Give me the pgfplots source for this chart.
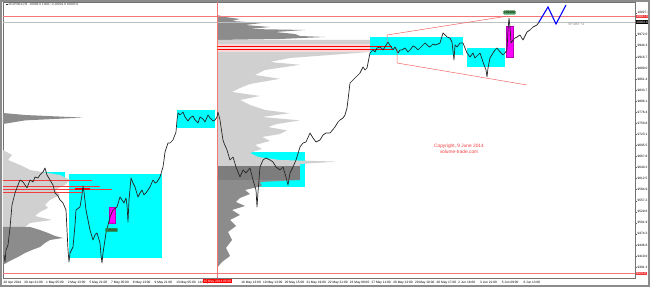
\documentclass[border=0pt]{standalone}
\usepackage{fontspec}
\setmainfont{Liberation Sans}
\usepackage{pgfplots}
\pgfplotsset{compat=1.18}
\definecolor{mtcyan}{RGB}{0,255,255}
\definecolor{mtmag}{RGB}{255,0,255}
\definecolor{proflight}{RGB}{208,208,208}
\definecolor{profdark}{RGB}{140,140,140}
\definecolor{profblock}{RGB}{125,125,125}
\definecolor{mtred}{RGB}{240,60,60}
\definecolor{vgreen}{RGB}{80,160,100}
\newcommand{\tinyf}{\fontsize{3.2}{3.6}\selectfont}
\begin{document}
\begin{tikzpicture}
\begin{axis}[
  width=632pt, height=276pt, scale only axis,
  xmin=3, xmax=635, ymin=9364, ymax=10054,
  clip=false,
  scaled y ticks=false, scaled x ticks=false,
  axis line style={black!55, line width=0.4pt},
  /pgf/number format/assume math mode=true,
  ytick={10027.3,9972.0,9944.3,9916.7,9889.0,9861.4,9833.7,9806.1,9778.4,9750.8,9723.1,9695.5,9667.8,9640.2,9612.5,9584.9,9557.2,9529.6,9501.9,9474.3,9446.6,9419.0,9391.3},
  yticklabel pos=right, ytick pos=right,
  y tick label style={font=\tinyf, inner sep=0.8pt, /pgf/number format/fixed, /pgf/number format/fixed zerofill, /pgf/number format/precision=1, /pgf/number format/1000 sep={}},
  xtick={3,23.7,45.4,67.1,88.8,110.5,132.2,153.9,175.6,197.3,219.0,240.7,262.4,284.1,305.8,327.5,349.2,370.9,392.6,414.3,436.0,457.7,479.4,501.1,522.8},
  xticklabels={28 Apr 2014,29 Apr 21:00,1 May 05:00,2 May 13:00,5 May 21:00,7 May 05:00,8 May 13:00,9 May 21:00,13 May 05:00,14 May 13:00,{},16 May 13:00,19 May 13:00,20 May 15:00,21 May 19:00,22 May 21:00,23 May 08:00,27 May 11:00,28 May 13:00,29 May 18:00,30 May 17:00,2 Jun 18:00,3 Jun 21:00,5 Jun 09:00,6 Jun 13:00},
  xtick pos=bottom,
  x tick label style={font=\tinyf, anchor=north west, inner sep=0.5pt, yshift=-0.8pt},
  tick align=outside, major tick length=1.5pt,
  tick style={black!60, line width=0.3pt},
]
% cyan boxes
\addplot[fill=mtcyan, draw=none] coordinates {(8,9629) (65,9629) (65,9601.5) (8,9601.5)} -- cycle;
\addplot[fill=mtcyan, draw=none] coordinates {(3,9491.5) (10,9491.5) (10,9414) (3,9414)} -- cycle;
\addplot[fill=mtcyan, draw=none] coordinates {(69,9624) (162,9624) (162,9414) (69,9414)} -- cycle;
\addplot[fill=mtcyan, draw=none] coordinates {(177,9784) (215,9784) (215,9739) (177,9739)} -- cycle;
\addplot[fill=mtcyan, draw=none] coordinates {(245,9679) (305,9679) (305,9591.5) (245,9591.5)} -- cycle;
\addplot[fill=mtcyan, draw=none] coordinates {(370,9966.5) (463,9966.5) (463,9921.5) (370,9921.5)} -- cycle;
\addplot[fill=mtcyan, draw=none] coordinates {(467,9939) (505,9939) (505,9891.5) (467,9891.5)} -- cycle;
% magenta boxes
\addplot[fill=mtmag, draw=mtmag!70!black, line width=0.3pt] coordinates {(109,9541.5) (115,9541.5) (115,9501.5) (109,9501.5)} -- cycle;
\addplot[fill=mtmag, draw=mtmag!70!black, line width=0.3pt] coordinates {(506,9994) (513,9994) (513,9916.5) (506,9916.5)} -- cycle;
% volume profile left
\addplot[fill=profdark, draw=none] coordinates {(3,9776.5) (25,9771.5) (83,9765) (25,9758) (3,9749)} -- cycle;
\addplot[fill=proflight, draw=none] coordinates {(3,9684) (12,9671.5) (8,9659) (20,9646.5) (30,9634) (60,9621.5) (70,9609) (65,9596.5) (55,9584) (60,9571.5) (50,9559) (45,9546.5) (48,9539) (40,9529) (35,9519) (52,9509) (30,9501.5) (25,9491.5) (3,9491.5)} -- cycle;
\addplot[fill=profdark, draw=none] coordinates {(3,9491.5) (30,9491.5) (40,9484) (48,9476.5) (55,9469) (63,9464) (50,9459) (45,9451.5) (40,9441.5) (32,9434) (25,9426.5) (18,9416.5) (8,9404) (3,9396.5)} -- cycle;
% volume profile middle
\addplot[fill=profdark, draw=none] coordinates {(217,10021.5) (225,10016.5) (240,10011.5) (232,10006.5) (262,10001.5) (245,9996.5) (270,9991.5) (250,9986.5) (305,9984) (275,9979) (295,9974) (300,9969) (325,9966.5) (280,9961.5) (217,9959)} -- cycle;
\addplot[fill=proflight, draw=none] coordinates {(217,9959) (370,9959) (370,9929) (330,9921.5) (290,9914) (270,9904) (300,9897) (265,9884) (255,9871.5) (280,9862) (250,9849) (240,9839) (232,9829) (260,9819) (240,9809) (250,9796.5) (265,9784) (290,9776) (262,9766.5) (300,9758) (277,9749) (268,9741.5) (287,9733) (280,9724) (262,9716.5) (270,9706.5) (255,9696.5) (262,9686.5) (250,9676.5) (258,9666.5) (280,9659) (337,9655) (300,9649) (300,9644) (217,9644)} -- cycle;
\addplot[fill=profblock, draw=none] coordinates {(217,9644) (300,9644) (300,9609) (217,9609)} -- cycle;
\addplot[fill=profdark, draw=none] coordinates {(217,9609) (300,9609) (260,9604) (262,9594) (245,9584) (250,9574) (240,9564) (236,9554) (245,9544) (232,9534) (240,9521.5) (230,9509) (236,9494) (228,9479) (232,9459) (226,9439) (230,9419) (222,9404) (217,9389)} -- cycle;
\addplot[fill=mtred!20, draw=none] coordinates {(217,9949) (370,9949) (370,9930) (217,9930)} -- cycle;
% red profile lines
\addplot[draw=mtred, line width=0.5pt] coordinates {(3,9609) (92,9609)};
\addplot[draw=mtred, line width=0.5pt] coordinates {(3,9594) (100,9594)};
\addplot[draw=mtred, line width=0.7pt] coordinates {(3,9586.5) (112,9586.5)};
\addplot[draw=mtred, line width=0.5pt] coordinates {(3,9579) (82,9579)};
\addplot[draw=red, line width=1.2pt] coordinates {(75,9586.5) (90,9586.5)};
\addplot[draw=red, line width=0.9pt] coordinates {(217,9942.75) (392,9942.75)};
\addplot[draw=red, line width=0.9pt] coordinates {(217,9935.25) (392,9935.25)};
% horizontal / vertical lines
\addplot[draw=mtred!70, line width=0.5pt] coordinates {(3,10017.75) (635,10017.75)};
\addplot[draw=black!25, line width=0.4pt] coordinates {(3,10004) (635,10004)};
\addplot[draw=mtred!70, line width=0.5pt] coordinates {(3,9375.25) (635,9375.25)};
\addplot[draw=mtred!70, line width=0.5pt] coordinates {(217,9364) (217,10054)};
% price
\addplot[draw=black!85, line width=0.7pt, line join=round] coordinates {(4,9421.5)(5,9404)(6,9434)(8,9446.5)(10,9489)(12,9546.5)(15,9576.5)(18,9596.5)(20,9609)(23,9604)(27,9589)(30,9609)(33,9604)(35,9616.5)(38,9614)(40,9621.5)(43,9629)(45,9639)(47,9621.5)(50,9609)(53,9596.5)(55,9576.5)(58,9569)(60,9559)(63,9551.5)(66,9534)(67,9484)(68,9434)(69,9404)(70,9426.5)(73,9441.5)(75,9496.5)(76,9534)(80,9541.5)(82,9571.5)(83,9594)(84,9579)(86,9534)(88,9509)(90,9484)(93,9459)(95,9471.5)(97,9476.5)(100,9451.5)(101,9421.5)(102,9401.5)(103,9426.5)(106,9476.5)(108,9496.5)(110,9516.5)(113,9534)(117,9541.5)(120,9566.5)(122,9559)(124,9551.5)(126,9564)(127,9546.5)(128,9504)(129,9559)(131,9614)(133,9601.5)(135,9591.5)(138,9566.5)(140,9576.5)(142,9584)(144,9571.5)(146,9576.5)(148,9584)(150,9591.5)(153,9609)(155,9601.5)(157,9604)(160,9616.5)(163,9641.5)(164,9659)(165,9679)(168,9701.5)(170,9701.5)(173,9709)(176,9729)(177,9759)(178,9776.5)(180,9771.5)(183,9779)(185,9766.5)(188,9756.5)(190,9764)(193,9769)(195,9759)(198,9751.5)(200,9766.5)(203,9761.5)(205,9754)(208,9771.5)(210,9764)(213,9756.5)(215,9759)(217,9766.5)(218,9779)(220,9759)(221,9741.5)(223,9709)(224,9701.5)(227,9684)(230,9659)(233,9666.5)(236,9641.5)(240,9616.5)(243,9634)(246,9626.5)(250,9639)(253,9609)(256,9584)(257,9541.5)(258,9579)(260,9641.5)(263,9659)(266,9664)(270,9659)(273,9654)(276,9641.5)(280,9634)(283,9641.5)(286,9616.5)(288,9596.5)(290,9626.5)(293,9641.5)(296,9659)(300,9691.5)(303,9701.5)(306,9704)(310,9726.5)(313,9714)(316,9704)(320,9709)(323,9721.5)(326,9726.5)(330,9726.5)(335,9741.5)(338,9754)(340,9759)(343,9764)(345,9771.5)(347,9789)(348,9809)(350,9851.5)(353,9859)(355,9864)(358,9871.5)(360,9876.5)(363,9891.5)(365,9884)(367,9889)(369,9914)(370,9926.5)(373,9934)(375,9929)(377,9939)(380,9941.5)(383,9934)(385,9941.5)(388,9954)(391,9941.5)(393,9934)(395,9941.5)(398,9926.5)(400,9934)(402,9934)(405,9939)(408,9929)(410,9934)(413,9944)(415,9941.5)(418,9934)(420,9939)(423,9946.5)(425,9951.5)(428,9944)(430,9941.5)(433,9949)(435,9946.5)(438,9949)(440,9951.5)(443,9976.5)(445,9971.5)(447,9966.5)(450,9964)(452,9954)(454,9909)(455,9946.5)(457,9941.5)(460,9951.5)(463,9951.5)(465,9939)(467,9926.5)(470,9916.5)(473,9926.5)(475,9914)(478,9921.5)(480,9926.5)(483,9904)(486,9884)(487,9866.5)(488,9889)(490,9914)(493,9926.5)(495,9934)(497,9939)(500,9929)(503,9921.5)(505,9926.5)(507,9934)(508,9984)(509,10014)(510,9991.5)(511,9951.5)(513,9959)(515,9964)(517,9966.5)(520,9971.5)(523,9959)(525,9969)(527,9979)(530,9984)(533,9991.5)(535,9994)(537,9996.5)(539,10004)};
% trend channel
\addplot[draw=mtred!80, line width=0.5pt] coordinates {(387,9951.5) (387,9971.5) (508,10019)};
\addplot[draw=mtred!80, line width=0.5pt] coordinates {(397,9939) (397,9901.5) (527,9846.5)};
% forecast zigzag
\addplot[draw=blue, line width=1.1pt] coordinates {(539,10004) (548,10041.5) (556,9999) (566,10046.5)};
% annotations
\node[fill=vgreen, draw=green!40!black, line width=0.2pt, rounded corners=0.6pt, inner sep=0.6pt, font=\tinyf] at (axis cs:509.5,10027.75) {105000};
\node[fill=vgreen, draw=green!40!black, line width=0.2pt, rounded corners=0.6pt, inner sep=0.6pt, font=\tinyf] at (axis cs:111.5,9484) {105000};
\node[text=mtred, font=\fontsize{4.8}{5.6}\selectfont, align=center] at (axis cs:459,9686.5) {Copyright, 9 June 2014\\volume-trade.com};
\node[text=black!55, font=\tinyf, anchor=north east, inner sep=0.5pt] at (axis cs:585,10002) {VP DBT +2};
\node[font=\tinyf, anchor=west, inner sep=0.5pt, text=black!80] at (rel axis cs:0.004,0.992) {\rule{1.6pt}{1.6pt}\ \#DJPM14,H1\ \ 10008.0 10007.0 10001.0 10005.0};
\node[fill=mtred, text=white, font=\tinyf, anchor=west, inner sep=0.6pt] at (axis cs:635.5,10017.75) {10017.5};
\node[fill=black, text=white, font=\tinyf, anchor=west, inner sep=0.6pt] at (axis cs:635.5,10004) {10004.0};
\node[fill=mtred, text=white, font=\tinyf, anchor=west, inner sep=0.6pt] at (axis cs:635.5,9375.25) {9375.0};
\node[fill=red, text=white, font=\tinyf, anchor=north west, inner sep=0.6pt] at (axis cs:203,9364) [yshift=-1.2pt] {15 May 2014 05:00};
\end{axis}
\draw[black!45, line width=2pt] ([xshift=-2pt,yshift=-8pt]current axis.south west) rectangle ([xshift=14pt,yshift=1pt]current axis.north east);
\end{tikzpicture}
\end{document}
